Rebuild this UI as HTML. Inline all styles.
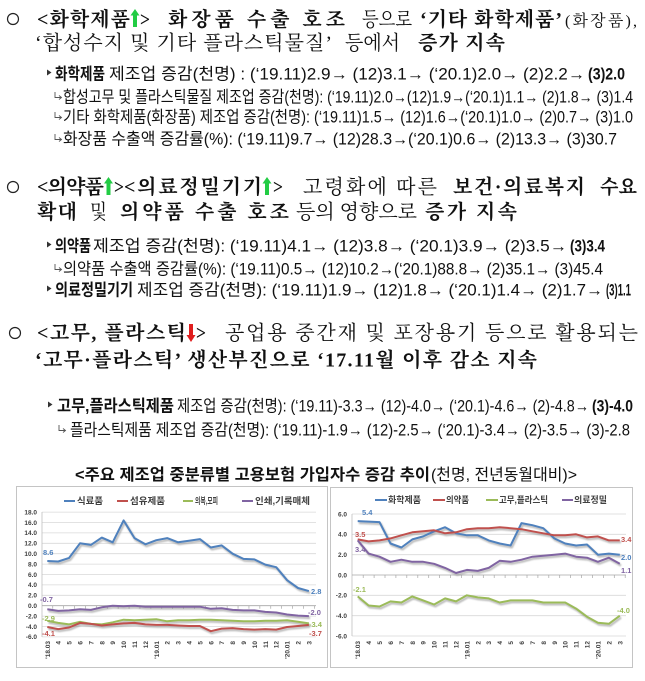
<!DOCTYPE html>
<html><head><meta charset="utf-8">
<style>
html,body{margin:0;padding:0;background:#fff;}
svg{display:block;}
.h{font-family:"Liberation Serif","Noto Serif CJK SC",serif;font-size:20px;fill:#111;}
.b{font-weight:700;}
.s{font-family:"Liberation Sans","Noto Sans CJK KR",sans-serif;font-size:16.5px;fill:#111;}
.c{font-family:"Liberation Sans","Noto Sans CJK KR",sans-serif;font-size:16px;fill:#111;}
.ax{font-family:"Liberation Sans",sans-serif;font-size:6.5px;font-weight:700;fill:#404040;}
.lg{font-family:"Liberation Sans","Noto Sans CJK KR",sans-serif;font-size:9px;font-weight:700;fill:#404040;}
.dl{font-family:"Liberation Sans",sans-serif;font-size:7.5px;font-weight:700;}
</style></head>
<body>
<svg width="645" height="681" viewBox="0 0 645 681" xmlns="http://www.w3.org/2000/svg">
<rect width="645" height="681" fill="#fff"/>
<defs><filter id="sh" x="-5%" y="-20%" width="110%" height="140%"><feGaussianBlur stdDeviation="0.9"/></filter></defs>

<!-- ===== Section 1 ===== -->
<circle cx="13" cy="19" r="5.5" fill="none" stroke="#222" stroke-width="1.2"/>
<text class="h b" x="37" y="26" textLength="93" lengthAdjust="spacing">&lt;화학제품</text>
<polygon points="135,9 139.5,15.5 137,15.5 137,27 133,27 133,15.5 130.5,15.5" fill="#22cc44"/>
<text class="h b" x="140" y="26" textLength="10" lengthAdjust="spacingAndGlyphs">&gt;</text>
<text class="h b" x="168" y="26" textLength="177" lengthAdjust="spacing">화장품 수출 호조</text>
<text class="h" x="362" y="26" textLength="50" lengthAdjust="spacingAndGlyphs">등으로</text>
<text class="h b" x="420" y="26" textLength="142" lengthAdjust="spacing">‘기타 화학제품’</text>
<text class="h" x="565" y="26" style="font-size:16px" textLength="72" lengthAdjust="spacing">(화장품),</text>

<text class="h" x="35" y="49.5" textLength="297" lengthAdjust="spacing">‘합성수지 및 기타 플라스틱물질’</text>
<text class="h" x="345" y="49.5" textLength="55" lengthAdjust="spacingAndGlyphs">등에서</text>
<text class="h b" x="418" y="49.5" textLength="87" lengthAdjust="spacing">증가 지속</text>

<polygon points="47,69.5 51.5,72.5 47,75.5" fill="#333"/>
<text class="s b" x="55" y="79.5" textLength="50" lengthAdjust="spacingAndGlyphs">화학제품</text>
<text class="s" x="109" y="79.5" textLength="476" lengthAdjust="spacingAndGlyphs">제조업 증감(천명) : (‘19.11)2.9→ (12)3.1→ (‘20.1)2.0→ (2)2.2→</text>
<text class="s b" x="588" y="79.5" textLength="37" lengthAdjust="spacingAndGlyphs">(3)2.0</text>

<path d="M55,92 V97.5 H61 M59,95.5 L61.5,97.5 L59,99.5" fill="none" stroke="#555" stroke-width="0.9"/>
<text class="s" x="63" y="102.5" textLength="570" lengthAdjust="spacingAndGlyphs">합성고무 및 플라스틱물질 제조업 증감(천명): (‘19.11)2.0→(12)1.9→(‘20.1)1.1→ (2)1.8→ (3)1.4</text>
<path d="M55,112 V117.5 H61 M59,115.5 L61.5,117.5 L59,119.5" fill="none" stroke="#555" stroke-width="0.9"/>
<text class="s" x="63" y="122.5" textLength="570" lengthAdjust="spacingAndGlyphs">기타 화학제품(화장품) 제조업 증감(천명): (‘19.11)1.5→ (12)1.6→(‘20.1)1.0→ (2)0.7→ (3)1.0</text>
<path d="M55,134 V139.5 H61 M59,137.5 L61.5,139.5 L59,141.5" fill="none" stroke="#555" stroke-width="0.9"/>
<text class="s" x="63" y="144.5" textLength="554" lengthAdjust="spacingAndGlyphs">화장품 수출액 증감률(%): (‘19.11)9.7→ (12)28.3→(‘20.1)0.6→ (2)13.3→ (3)30.7</text>

<!-- ===== Section 2 ===== -->
<circle cx="13" cy="187" r="5.5" fill="none" stroke="#222" stroke-width="1.2"/>
<text class="h b" x="37" y="193.5" textLength="67" lengthAdjust="spacing">&lt;의약품</text>
<polygon points="108.5,177 113,183.5 110.5,183.5 110.5,195 106.5,195 106.5,183.5 104,183.5" fill="#22cc44"/>
<text class="h b" x="114" y="193.5" textLength="10" lengthAdjust="spacingAndGlyphs">&gt;</text>
<text class="h b" x="124" y="193.5" textLength="138" lengthAdjust="spacing">&lt;의료정밀기기</text>
<polygon points="267,177 271.5,183.5 269,183.5 269,195 265,195 265,183.5 262.5,183.5" fill="#22cc44"/>
<text class="h b" x="273" y="193.5" textLength="10" lengthAdjust="spacingAndGlyphs">&gt;</text>
<text class="h" x="303" y="193.5" textLength="134" lengthAdjust="spacing">고령화에 따른</text>
<text class="h b" x="453" y="193.5" textLength="132" lengthAdjust="spacing">보건·의료복지</text>
<text class="h b" x="600" y="193.5" textLength="37" lengthAdjust="spacingAndGlyphs">수요</text>

<text class="h b" x="37" y="218.5" textLength="40" lengthAdjust="spacing">확대</text>
<text class="h" x="90" y="218.5" textLength="17" lengthAdjust="spacingAndGlyphs">및</text>
<text class="h b" x="120" y="218.5" textLength="169" lengthAdjust="spacing">의약품 수출 호조</text>
<text class="h" x="296" y="218.5" textLength="121" lengthAdjust="spacing">등의 영향으로</text>
<text class="h b" x="425" y="218.5" textLength="92" lengthAdjust="spacing">증가 지속</text>

<polygon points="47,241.5 51.5,244.5 47,247.5" fill="#333"/>
<text class="s b" x="55" y="251.5" textLength="36" lengthAdjust="spacingAndGlyphs">의약품</text>
<text class="s" x="93" y="251.5" textLength="474" lengthAdjust="spacingAndGlyphs">제조업 증감(천명): (‘19.11)4.1→ (12)3.8→ (‘20.1)3.9→ (2)3.5→</text>
<text class="s b" x="570" y="251.5" textLength="35" lengthAdjust="spacingAndGlyphs">(3)3.4</text>

<path d="M55,264 V269.5 H61 M59,267.5 L61.5,269.5 L59,271.5" fill="none" stroke="#555" stroke-width="0.9"/>
<text class="s" x="63" y="274.5" textLength="540" lengthAdjust="spacingAndGlyphs">의약품 수출액 증감률(%): (‘19.11)0.5→ (12)10.2→(‘20.1)88.8→ (2)35.1→ (3)45.4</text>

<polygon points="47,285.5 51.5,288.5 47,291.5" fill="#333"/>
<text class="s b" x="55" y="295.5" textLength="78" lengthAdjust="spacingAndGlyphs">의료정밀기기</text>
<text class="s" x="137" y="295.5" textLength="466" lengthAdjust="spacingAndGlyphs">제조업 증감(천명): (‘19.11)1.9→ (12)1.8→ (‘20.1)1.4→ (2)1.7→</text>
<text class="s b" x="606" y="295.5" textLength="25" lengthAdjust="spacingAndGlyphs">(3)1.1</text>

<!-- ===== Section 3 ===== -->
<circle cx="15" cy="333" r="5.5" fill="none" stroke="#222" stroke-width="1.2"/>
<text class="h b" x="37" y="339.5" textLength="149" lengthAdjust="spacing">&lt;고무, 플라스틱</text>
<polygon points="189,324 193,324 193,335 195.5,335 191,342 186.5,335 189,335" fill="#e01e1e"/>
<text class="h b" x="196" y="339.5" textLength="10" lengthAdjust="spacingAndGlyphs">&gt;</text>
<text class="h" x="225" y="339.5" textLength="413" lengthAdjust="spacing">공업용 중간재 및 포장용기 등으로 활용되는</text>

<text class="h b" x="35" y="366.5" textLength="502" lengthAdjust="spacing">‘고무·플라스틱’ 생산부진으로 ‘17.11월 이후 감소 지속</text>

<polygon points="48,401.5 52.5,404.5 48,407.5" fill="#333"/>
<text class="s b" x="57" y="411.5" textLength="117" lengthAdjust="spacingAndGlyphs">고무,플라스틱제품</text>
<text class="s" x="177" y="411.5" textLength="412" lengthAdjust="spacingAndGlyphs">제조업 증감(천명): (‘19.11)-3.3→ (12)-4.0→ (‘20.1)-4.6→ (2)-4.8→</text>
<text class="s b" x="592" y="411.5" textLength="41" lengthAdjust="spacingAndGlyphs">(3)-4.0</text>

<path d="M59,425 V430.5 H65 M63,428.5 L65.5,430.5 L63,432.5" fill="none" stroke="#555" stroke-width="0.9"/>
<text class="s" x="70" y="435.5" textLength="560" lengthAdjust="spacingAndGlyphs">플라스틱제품 제조업 증감(천명): (‘19.11)-1.9→ (12)-2.5→ (‘20.1)-3.4→ (2)-3.5→ (3)-2.8</text>

<!-- caption -->
<text class="c b" x="75" y="480" textLength="355" lengthAdjust="spacingAndGlyphs">&lt;주요 제조업 중분류별 고용보험 가입자수 증감 추이</text>
<text class="c" x="431" y="480" textLength="146" lengthAdjust="spacingAndGlyphs">(천명, 전년동월대비)&gt;</text>

<!-- ===== Left chart ===== -->
<rect x="16.5" y="486.5" width="311" height="181" fill="#fff" stroke="#c4c4c4" stroke-width="1"/>
<g stroke="#d9d9d9" stroke-width="0.8">
<line x1="42" y1="512.1" x2="316" y2="512.1"/>
<line x1="42" y1="522.5" x2="316" y2="522.5"/>
<line x1="42" y1="532.9" x2="316" y2="532.9"/>
<line x1="42" y1="543.3" x2="316" y2="543.3"/>
<line x1="42" y1="553.7" x2="316" y2="553.7"/>
<line x1="42" y1="564.1" x2="316" y2="564.1"/>
<line x1="42" y1="574.5" x2="316" y2="574.5"/>
<line x1="42" y1="584.9" x2="316" y2="584.9"/>
<line x1="42" y1="595.3" x2="316" y2="595.3"/>
<line x1="42" y1="616.1" x2="316" y2="616.1"/>
<line x1="42" y1="626.5" x2="316" y2="626.5"/>
<line x1="42" y1="636.9" x2="316" y2="636.9"/>
</g>
<line x1="42" y1="512" x2="42" y2="637" stroke="#bfbfbf" stroke-width="0.8"/>
<line x1="42" y1="605.7" x2="316" y2="605.7" stroke="#a6a6a6" stroke-width="0.8"/>
<path d="M52.75,605.7v3M63.65,605.7v3M74.55,605.7v3M85.45,605.7v3M96.35,605.7v3M107.25,605.7v3M118.15,605.7v3M129.05,605.7v3M139.95,605.7v3M150.85,605.7v3M161.75,605.7v3M172.65,605.7v3M183.55,605.7v3M194.45,605.7v3M205.35,605.7v3M216.25,605.7v3M227.15,605.7v3M238.05,605.7v3M248.95,605.7v3M259.85,605.7v3M270.75,605.7v3M281.65,605.7v3M292.55,605.7v3M303.45,605.7v3M314.35,605.7v3" stroke="#a6a6a6" stroke-width="0.7"/>
<g class="ax" text-anchor="end">
<text x="37" y="514.4">18.0</text>
<text x="37" y="524.8">16.0</text>
<text x="37" y="535.2">14.0</text>
<text x="37" y="545.6">12.0</text>
<text x="37" y="556">10.0</text>
<text x="37" y="566.4">8.0</text>
<text x="37" y="576.8">6.0</text>
<text x="37" y="587.2">4.0</text>
<text x="37" y="597.6">2.0</text>
<text x="37" y="608">0.0</text>
<text x="37" y="618.4">-2.0</text>
<text x="37" y="628.8">-4.0</text>
<text x="37" y="639.2">-6.0</text>
</g>
<!-- legend left -->
<line x1="64" y1="501" x2="75" y2="501" stroke="#4f81bd" stroke-width="2"/>
<text class="lg" x="77" y="504" textLength="26" lengthAdjust="spacingAndGlyphs">식료품</text>
<line x1="117" y1="501" x2="128" y2="501" stroke="#c0504d" stroke-width="2"/>
<text class="lg" x="130" y="504" textLength="35" lengthAdjust="spacingAndGlyphs">섬유제품</text>
<line x1="183" y1="501" x2="193" y2="501" stroke="#9bbb59" stroke-width="2"/>
<text class="lg" x="195" y="504" textLength="23" lengthAdjust="spacingAndGlyphs">의복,모피</text>
<line x1="242" y1="501" x2="253" y2="501" stroke="#8064a2" stroke-width="2"/>
<text class="lg" x="255" y="504" textLength="55" lengthAdjust="spacingAndGlyphs">인쇄,기록매체</text>
<!-- shadows left -->
<g fill="none" stroke="#7f7f7f" stroke-width="2.4" opacity="0.5" filter="url(#sh)" transform="translate(1.2,1.8)" stroke-linejoin="round">
<polyline points="47.3,561.0 58.2,561.5 69.1,557.9 80.0,543.3 90.9,544.9 101.8,537.6 112.7,542.3 123.6,520.4 134.5,538.1 145.4,544.3 156.3,540.2 167.2,538.1 178.1,542.3 189.0,540.7 199.9,539.1 210.8,547.5 221.7,545.4 232.6,553.7 243.5,558.9 254.4,559.4 265.3,564.6 276.2,567.2 287.1,580.2 298.0,588.0 308.9,591.1"/>
<polyline points="47.3,609.3 58.2,610.9 69.1,610.4 80.0,609.3 90.9,609.9 101.8,607.3 112.7,605.7 123.6,606.2 134.5,605.7 145.4,606.7 156.3,606.7 167.2,606.7 178.1,606.7 189.0,606.7 199.9,606.7 210.8,608.8 221.7,608.3 232.6,609.9 243.5,610.4 254.4,610.4 265.3,611.9 276.2,612.5 287.1,614.5 298.0,615.6 308.9,616.1"/>
<polyline points="47.3,620.8 58.2,622.9 69.1,624.4 80.0,621.8 90.9,623.9 101.8,624.4 112.7,622.3 123.6,619.7 134.5,620.3 145.4,619.7 156.3,619.2 167.2,621.3 178.1,620.3 189.0,620.3 199.9,619.7 210.8,619.7 221.7,620.3 232.6,620.8 243.5,621.3 254.4,621.3 265.3,620.8 276.2,620.8 287.1,620.3 298.0,621.8 308.9,623.4"/>
<polyline points="47.3,627.0 58.2,629.1 69.1,627.5 80.0,622.9 90.9,623.9 101.8,625.5 112.7,624.4 123.6,623.4 134.5,622.9 145.4,624.4 156.3,624.9 167.2,624.9 178.1,625.5 189.0,626.0 199.9,626.0 210.8,631.2 221.7,628.6 232.6,628.1 243.5,629.1 254.4,629.6 265.3,629.1 276.2,629.6 287.1,627.0 298.0,626.0 308.9,624.9"/>
</g>
<g fill="none" stroke-width="2" stroke-linejoin="round">
<polyline stroke="#4f81bd" points="47.3,561.0 58.2,561.5 69.1,557.9 80.0,543.3 90.9,544.9 101.8,537.6 112.7,542.3 123.6,520.4 134.5,538.1 145.4,544.3 156.3,540.2 167.2,538.1 178.1,542.3 189.0,540.7 199.9,539.1 210.8,547.5 221.7,545.4 232.6,553.7 243.5,558.9 254.4,559.4 265.3,564.6 276.2,567.2 287.1,580.2 298.0,588.0 308.9,591.1"/>
<polyline stroke="#8064a2" points="47.3,609.3 58.2,610.9 69.1,610.4 80.0,609.3 90.9,609.9 101.8,607.3 112.7,605.7 123.6,606.2 134.5,605.7 145.4,606.7 156.3,606.7 167.2,606.7 178.1,606.7 189.0,606.7 199.9,606.7 210.8,608.8 221.7,608.3 232.6,609.9 243.5,610.4 254.4,610.4 265.3,611.9 276.2,612.5 287.1,614.5 298.0,615.6 308.9,616.1"/>
<polyline stroke="#9bbb59" points="47.3,620.8 58.2,622.9 69.1,624.4 80.0,621.8 90.9,623.9 101.8,624.4 112.7,622.3 123.6,619.7 134.5,620.3 145.4,619.7 156.3,619.2 167.2,621.3 178.1,620.3 189.0,620.3 199.9,619.7 210.8,619.7 221.7,620.3 232.6,620.8 243.5,621.3 254.4,621.3 265.3,620.8 276.2,620.8 287.1,620.3 298.0,621.8 308.9,623.4"/>
<polyline stroke="#c0504d" points="47.3,627.0 58.2,629.1 69.1,627.5 80.0,622.9 90.9,623.9 101.8,625.5 112.7,624.4 123.6,623.4 134.5,622.9 145.4,624.4 156.3,624.9 167.2,624.9 178.1,625.5 189.0,626.0 199.9,626.0 210.8,631.2 221.7,628.6 232.6,628.1 243.5,629.1 254.4,629.6 265.3,629.1 276.2,629.6 287.1,627.0 298.0,626.0 308.9,624.9"/>
</g>
<!-- data labels left -->
<text class="dl" x="43" y="555" fill="#4f81bd">8.6</text>
<text class="dl" x="40" y="602" fill="#8064a2">-0.7</text>
<text class="dl" x="42" y="621" fill="#9bbb59">-2.9</text>
<text class="dl" x="42" y="636" fill="#c0504d">-4.1</text>
<text class="dl" x="311" y="594" fill="#4f81bd">2.8</text>
<text class="dl" x="308" y="615" fill="#8064a2">-2.0</text>
<text class="dl" x="309" y="627" fill="#9bbb59">-3.4</text>
<text class="dl" x="309" y="636" fill="#c0504d">-3.7</text>
<!-- x labels left -->
<g class="ax" text-anchor="end">
<text transform="translate(49.8,641) rotate(-90)">'18.03</text>
<text transform="translate(60.7,641) rotate(-90)">4</text>
<text transform="translate(71.6,641) rotate(-90)">5</text>
<text transform="translate(82.5,641) rotate(-90)">6</text>
<text transform="translate(93.4,641) rotate(-90)">7</text>
<text transform="translate(104.3,641) rotate(-90)">8</text>
<text transform="translate(115.2,641) rotate(-90)">9</text>
<text transform="translate(126.1,641) rotate(-90)">10</text>
<text transform="translate(137,641) rotate(-90)">11</text>
<text transform="translate(147.9,641) rotate(-90)">12</text>
<text transform="translate(158.8,641) rotate(-90)">'19.01</text>
<text transform="translate(169.7,641) rotate(-90)">2</text>
<text transform="translate(180.6,641) rotate(-90)">3</text>
<text transform="translate(191.5,641) rotate(-90)">4</text>
<text transform="translate(202.4,641) rotate(-90)">5</text>
<text transform="translate(213.3,641) rotate(-90)">6</text>
<text transform="translate(224.2,641) rotate(-90)">7</text>
<text transform="translate(235.1,641) rotate(-90)">8</text>
<text transform="translate(246,641) rotate(-90)">9</text>
<text transform="translate(256.9,641) rotate(-90)">10</text>
<text transform="translate(267.8,641) rotate(-90)">11</text>
<text transform="translate(278.7,641) rotate(-90)">12</text>
<text transform="translate(289.6,641) rotate(-90)">'20.01</text>
<text transform="translate(300.5,641) rotate(-90)">2</text>
<text transform="translate(311.4,641) rotate(-90)">3</text>
</g>

<!-- ===== Right chart ===== -->
<rect x="330.5" y="487.5" width="302" height="180" fill="#fff" stroke="#c4c4c4" stroke-width="1"/>
<g stroke="#d9d9d9" stroke-width="0.8">
<line x1="352" y1="514" x2="626" y2="514"/>
<line x1="352" y1="534.3" x2="626" y2="534.3"/>
<line x1="352" y1="554.7" x2="626" y2="554.7"/>
<line x1="352" y1="595.3" x2="626" y2="595.3"/>
<line x1="352" y1="615.7" x2="626" y2="615.7"/>
<line x1="352" y1="636" x2="626" y2="636"/>
</g>
<line x1="352" y1="514" x2="352" y2="636" stroke="#bfbfbf" stroke-width="0.8"/>
<line x1="352" y1="575" x2="626" y2="575" stroke="#a6a6a6" stroke-width="0.8"/>
<path d="M363.2,575v3M374.1,575v3M385,575v3M395.9,575v3M406.8,575v3M417.8,575v3M428.7,575v3M439.6,575v3M450.5,575v3M461.4,575v3M472.4,575v3M483.3,575v3M494.2,575v3M505.1,575v3M516,575v3M527,575v3M537.9,575v3M548.8,575v3M559.7,575v3M570.6,575v3M581.6,575v3M592.5,575v3M603.4,575v3M614.3,575v3M625.2,575v3" stroke="#a6a6a6" stroke-width="0.7"/>
<g class="ax" text-anchor="end">
<text x="347" y="516.3">6.0</text>
<text x="347" y="536.6">4.0</text>
<text x="347" y="557">2.0</text>
<text x="347" y="577.3">0.0</text>
<text x="347" y="597.6">-2.0</text>
<text x="347" y="618">-4.0</text>
<text x="347" y="638.3">-6.0</text>
</g>
<!-- legend right -->
<line x1="375" y1="500" x2="387" y2="500" stroke="#4f81bd" stroke-width="2"/>
<text class="lg" x="388" y="503" textLength="33" lengthAdjust="spacingAndGlyphs">화학제품</text>
<line x1="433" y1="500" x2="445" y2="500" stroke="#c0504d" stroke-width="2"/>
<text class="lg" x="446" y="503" textLength="23" lengthAdjust="spacingAndGlyphs">의약품</text>
<line x1="486" y1="500" x2="498" y2="500" stroke="#9bbb59" stroke-width="2"/>
<text class="lg" x="499" y="503" textLength="49" lengthAdjust="spacingAndGlyphs">고무,플라스틱</text>
<line x1="562" y1="500" x2="573" y2="500" stroke="#8064a2" stroke-width="2"/>
<text class="lg" x="574" y="503" textLength="33" lengthAdjust="spacingAndGlyphs">의료정밀</text>
<!-- shadows right -->
<g fill="none" stroke="#7f7f7f" stroke-width="2.4" opacity="0.5" filter="url(#sh)" transform="translate(1.2,1.8)" stroke-linejoin="round">
<polyline points="357.7,521.1 368.6,521.6 379.5,522.1 390.5,543.5 401.4,547.5 412.3,539.4 423.2,536.4 434.1,531.3 445.1,527.2 456.0,533.3 466.9,535.3 477.8,535.3 488.7,540.4 499.7,543.5 510.6,545.5 521.5,523.1 532.4,525.2 543.3,528.2 554.3,538.4 565.2,543.5 576.1,545.5 587.0,544.5 597.9,554.7 608.9,553.6 619.8,554.7"/>
<polyline points="357.7,539.4 368.6,541.4 379.5,540.4 390.5,538.4 401.4,535.3 412.3,532.3 423.2,531.3 434.1,530.3 445.1,533.3 456.0,532.3 466.9,529.2 477.8,528.2 488.7,528.2 499.7,527.2 510.6,528.2 521.5,529.2 532.4,531.3 543.3,533.3 554.3,535.3 565.2,535.3 576.1,534.3 587.0,537.4 597.9,536.4 608.9,540.4 619.8,540.4"/>
<polyline points="357.7,540.4 368.6,553.6 379.5,556.7 390.5,561.8 401.4,559.7 412.3,561.8 423.2,561.8 434.1,563.8 445.1,567.9 456.0,573.0 466.9,569.9 477.8,570.9 488.7,567.9 499.7,560.8 510.6,561.8 521.5,559.7 532.4,556.7 543.3,555.7 554.3,554.7 565.2,553.6 576.1,556.7 587.0,557.7 597.9,561.8 608.9,557.7 619.8,563.8"/>
<polyline points="357.7,596.4 368.6,605.5 379.5,606.5 390.5,601.4 401.4,602.5 412.3,596.4 423.2,600.4 434.1,604.5 445.1,598.4 456.0,601.4 466.9,595.3 477.8,597.4 488.7,598.4 499.7,602.5 510.6,600.4 521.5,600.4 532.4,600.4 543.3,602.5 554.3,602.5 565.2,602.5 576.1,608.6 587.0,616.7 597.9,622.8 608.9,623.8 619.8,615.7"/>
</g>
<g fill="none" stroke-width="2" stroke-linejoin="round">
<polyline stroke="#4f81bd" points="357.7,521.1 368.6,521.6 379.5,522.1 390.5,543.5 401.4,547.5 412.3,539.4 423.2,536.4 434.1,531.3 445.1,527.2 456.0,533.3 466.9,535.3 477.8,535.3 488.7,540.4 499.7,543.5 510.6,545.5 521.5,523.1 532.4,525.2 543.3,528.2 554.3,538.4 565.2,543.5 576.1,545.5 587.0,544.5 597.9,554.7 608.9,553.6 619.8,554.7"/>
<polyline stroke="#c0504d" points="357.7,539.4 368.6,541.4 379.5,540.4 390.5,538.4 401.4,535.3 412.3,532.3 423.2,531.3 434.1,530.3 445.1,533.3 456.0,532.3 466.9,529.2 477.8,528.2 488.7,528.2 499.7,527.2 510.6,528.2 521.5,529.2 532.4,531.3 543.3,533.3 554.3,535.3 565.2,535.3 576.1,534.3 587.0,537.4 597.9,536.4 608.9,540.4 619.8,540.4"/>
<polyline stroke="#8064a2" points="357.7,540.4 368.6,553.6 379.5,556.7 390.5,561.8 401.4,559.7 412.3,561.8 423.2,561.8 434.1,563.8 445.1,567.9 456.0,573.0 466.9,569.9 477.8,570.9 488.7,567.9 499.7,560.8 510.6,561.8 521.5,559.7 532.4,556.7 543.3,555.7 554.3,554.7 565.2,553.6 576.1,556.7 587.0,557.7 597.9,561.8 608.9,557.7 619.8,563.8"/>
<polyline stroke="#9bbb59" points="357.7,596.4 368.6,605.5 379.5,606.5 390.5,601.4 401.4,602.5 412.3,596.4 423.2,600.4 434.1,604.5 445.1,598.4 456.0,601.4 466.9,595.3 477.8,597.4 488.7,598.4 499.7,602.5 510.6,600.4 521.5,600.4 532.4,600.4 543.3,602.5 554.3,602.5 565.2,602.5 576.1,608.6 587.0,616.7 597.9,622.8 608.9,623.8 619.8,615.7"/>
</g>
<!-- data labels right -->
<text class="dl" x="362" y="515" fill="#4f81bd">5.4</text>
<text class="dl" x="355" y="537" fill="#c0504d">3.5</text>
<text class="dl" x="355" y="552" fill="#8064a2">3.4</text>
<text class="dl" x="353" y="592" fill="#9bbb59">-2.1</text>
<text class="dl" x="621" y="542" fill="#c0504d">3.4</text>
<text class="dl" x="621" y="560" fill="#4f81bd">2.0</text>
<text class="dl" x="621" y="573" fill="#8064a2">1.1</text>
<text class="dl" x="617" y="613" fill="#9bbb59">-4.0</text>
<!-- x labels right -->
<g class="ax" text-anchor="end">
<text transform="translate(360.2,641) rotate(-90)">'18.03</text>
<text transform="translate(371.1,641) rotate(-90)">4</text>
<text transform="translate(382,641) rotate(-90)">5</text>
<text transform="translate(393,641) rotate(-90)">6</text>
<text transform="translate(403.9,641) rotate(-90)">7</text>
<text transform="translate(414.8,641) rotate(-90)">8</text>
<text transform="translate(425.7,641) rotate(-90)">9</text>
<text transform="translate(436.6,641) rotate(-90)">10</text>
<text transform="translate(447.6,641) rotate(-90)">11</text>
<text transform="translate(458.5,641) rotate(-90)">12</text>
<text transform="translate(469.4,641) rotate(-90)">'19.01</text>
<text transform="translate(480.3,641) rotate(-90)">2</text>
<text transform="translate(491.2,641) rotate(-90)">3</text>
<text transform="translate(502.2,641) rotate(-90)">4</text>
<text transform="translate(513.1,641) rotate(-90)">5</text>
<text transform="translate(524,641) rotate(-90)">6</text>
<text transform="translate(534.9,641) rotate(-90)">7</text>
<text transform="translate(545.8,641) rotate(-90)">8</text>
<text transform="translate(556.8,641) rotate(-90)">9</text>
<text transform="translate(567.7,641) rotate(-90)">10</text>
<text transform="translate(578.6,641) rotate(-90)">11</text>
<text transform="translate(589.5,641) rotate(-90)">12</text>
<text transform="translate(600.4,641) rotate(-90)">'20.01</text>
<text transform="translate(611.4,641) rotate(-90)">2</text>
<text transform="translate(622.3,641) rotate(-90)">3</text>
</g>
</svg>
</body></html>
